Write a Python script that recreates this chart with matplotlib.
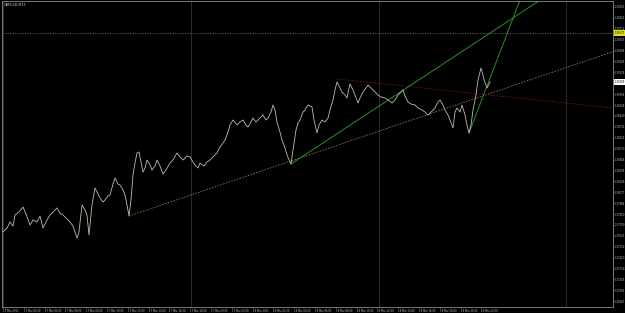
import numpy as np
import matplotlib
matplotlib.use("Agg")
import matplotlib.pyplot as plt

### Data (bar number, close price)
bars = [3, 7, 10, 13, 15, 19, 23, 26, 30, 33, 37, 40, 43, 47, 50, 54, 57, 60, 63, 67,
        70, 73, 77, 79, 82, 85, 87, 89, 92, 95, 98, 100, 103, 105, 108, 110, 113, 115, 118, 120,
        123, 125, 127, 129, 131, 133, 135, 137, 139, 141, 143, 145, 147, 150, 152, 155, 157, 160, 163, 166,
        170, 173, 177, 180, 183, 187, 190, 193, 195, 198, 200, 204, 207, 210, 213, 217, 220, 223, 225, 228,
        230, 233, 237, 240, 243, 246, 248, 251, 253, 256, 258, 261, 263, 266, 268, 271, 273, 275, 277, 280,
        282, 285, 287, 289, 291, 293, 296, 298, 300, 303, 305, 308, 312, 314, 317, 319, 322, 325, 328, 330,
        333, 335, 337, 340, 342, 345, 347, 349, 350, 353, 355, 358, 360, 363, 366, 368, 371, 373, 376, 378,
        381, 385, 388, 392, 395, 398, 401, 403, 405, 408, 411, 415, 418, 422, 425, 428, 431, 435, 438, 440,
        443, 445, 448, 450, 453, 455, 457, 460, 462, 465, 467, 469, 471, 473, 476, 478, 480, 481, 483, 484,
        486, 487, 489, 490]
closes = [1.3768, 1.3772, 1.3778, 1.3774, 1.3785, 1.3788, 1.3793, 1.3786, 1.3775, 1.3780,
          1.3778, 1.3784, 1.3772, 1.3780, 1.3785, 1.3789, 1.3792, 1.3787, 1.3785, 1.3781,
          1.3778, 1.3774, 1.3762, 1.3768, 1.3795, 1.3790, 1.3785, 1.3765, 1.3795, 1.3812,
          1.3806, 1.3802, 1.3798, 1.3800, 1.3804, 1.3805, 1.3816, 1.3822, 1.3816, 1.3815,
          1.3810, 1.3805, 1.3795, 1.3784, 1.3800, 1.3825, 1.3837, 1.3847, 1.3848, 1.3838,
          1.3828, 1.3832, 1.3840, 1.3835, 1.3830, 1.3834, 1.3840, 1.3834, 1.3826, 1.3830,
          1.3837, 1.3840, 1.3847, 1.3843, 1.3840, 1.3844, 1.3843, 1.3838, 1.3835, 1.3832,
          1.3837, 1.3834, 1.3838, 1.3840, 1.3843, 1.3847, 1.3853, 1.3857, 1.3860, 1.3868,
          1.3875, 1.3880, 1.3875, 1.3878, 1.3880, 1.3875, 1.3873, 1.3878, 1.3882, 1.3878,
          1.3880, 1.3883, 1.3885, 1.3880, 1.3882, 1.3888, 1.3895, 1.3890, 1.3878, 1.3868,
          1.3860, 1.3852, 1.3845, 1.3840, 1.3836, 1.3850, 1.3870, 1.3877, 1.3880, 1.3888,
          1.3890, 1.3895, 1.3893, 1.3880, 1.3867, 1.3875, 1.3880, 1.3878, 1.3882, 1.3890,
          1.3900, 1.3910, 1.3918, 1.3912, 1.3908, 1.3905, 1.3902, 1.3912, 1.3916, 1.3910,
          1.3905, 1.3897, 1.3902, 1.3908, 1.3912, 1.3915, 1.3912, 1.3910, 1.3907, 1.3905,
          1.3903, 1.3902, 1.3900, 1.3897, 1.3900, 1.3905, 1.3908, 1.3910, 1.3904, 1.3898,
          1.3896, 1.3895, 1.3892, 1.3890, 1.3888, 1.3885, 1.3888, 1.3892, 1.3898, 1.3900,
          1.3895, 1.3890, 1.3885, 1.3880, 1.3872, 1.3888, 1.3892, 1.3888, 1.3895, 1.3885,
          1.3875, 1.3867, 1.3875, 1.3890, 1.3905, 1.3920, 1.3928, 1.3932, 1.3925, 1.3920,
          1.3915, 1.3912, 1.3916, 1.3918]

### Chart objects (anchor points: bar, price)
support_line = [(129, 1.3784), (291, 1.3839)]      # dotted olive
green_line_1 = [(291, 1.3836), (405, 1.3911)]      # solid green
green_line_2 = [(469, 1.3867), (520, 1.4000)]      # steep solid green
red_line = [(337, 1.3921), (613, 1.3892)]          # dotted dark red
hline_price = 1.3967                               # yellow horizontal line

x_labels = ["17 Mar 2021", "17 Mar 02:00", "17 Mar 04:00", "17 Mar 06:00", "17 Mar 08:00",
            "17 Mar 10:00", "17 Mar 12:00", "17 Mar 14:00", "17 Mar 16:00", "17 Mar 18:00",
            "17 Mar 20:00", "17 Mar 22:00", "18 Mar 2021", "18 Mar 02:00", "18 Mar 04:00",
            "18 Mar 06:00", "18 Mar 08:00", "18 Mar 10:00", "18 Mar 12:00", "18 Mar 14:00",
            "18 Mar 16:00", "18 Mar 18:00", "18 Mar 20:00", "18 Mar 22:00"]
grid_bars = [3, 191, 379, 566]
title = "GBPUSD,M15"

### Figure
fig = plt.figure(figsize=(6.25, 3.13), dpi=100, facecolor="black")
ax = fig.add_axes([2 / 625, 6 / 313, 611 / 625, 306 / 313], facecolor="black")
ax.set_xlim(2, 613)
ax.set_ylim(1.3693, 1.3999)

for gx in grid_bars:
    ax.axvline(gx, color="#333333", lw=0.6, zorder=0)

ax.axhline(hline_price, color="#7a6c34", lw=0.6, ls=(0, (1.5, 1.5)), zorder=1)

def extend(p0, p1, x_end):
    slope = (p1[1] - p0[1]) / (p1[0] - p0[0])
    return [p0[0], x_end], [p0[1], p0[1] + slope * (x_end - p0[0])]

xs, ys = extend(*support_line, 613)
ax.plot(xs, ys, color="#7e7e40", lw=0.6, ls=(0, (2, 1.5)), zorder=2)
xs, ys = extend(*red_line, 613)
ax.plot(xs, ys, color="#6e1a1a", lw=0.6, ls=(0, (2, 1.5)), zorder=2)
xs, ys = extend(*green_line_1, 613)
ax.plot(xs, ys, color="#2a8f2a", lw=0.7, zorder=2)
xs, ys = extend(*green_line_2, 613)
ax.plot(xs, ys, color="#2a8f2a", lw=0.7, zorder=2)

ax.plot(bars, closes, color="#bdbdad", lw=0.6, zorder=3)

# axes styling
for s in ax.spines.values():
    s.set_color("#8a8a8a")
    s.set_linewidth(0.6)

y_ticks = 1.3993 - 0.00109 * np.arange(28)
ax.yaxis.tick_right()
ax.set_yticks(y_ticks)
ax.set_yticklabels(["%.5f" % v for v in y_ticks])
x_ticks = 3 + 20.8 * np.arange(len(x_labels))
ax.set_xticks(x_ticks)
ax.set_xticklabels(x_labels, ha="left")
ax.tick_params(colors="#bfbfbf", labelsize=1.8, length=1.0, width=0.4, pad=0.4)

# price labels on the right (drawn over the scale)
for price, fc in [(hline_price, "#e0e020"), (closes[-1], "white")]:
    ax.text(1.002, price, "%.5f" % price, transform=ax.get_yaxis_transform(),
            fontsize=1.8, color="black", va="center", ha="left", zorder=10,
            bbox=dict(boxstyle="square,pad=0.25", fc=fc, ec="none"))

ax.text(0.003, 0.995, title, transform=ax.transAxes, fontsize=2.4, color="#d0d0d0",
        va="top", ha="left")

fig.savefig("out.png", dpi=100, facecolor="black")
